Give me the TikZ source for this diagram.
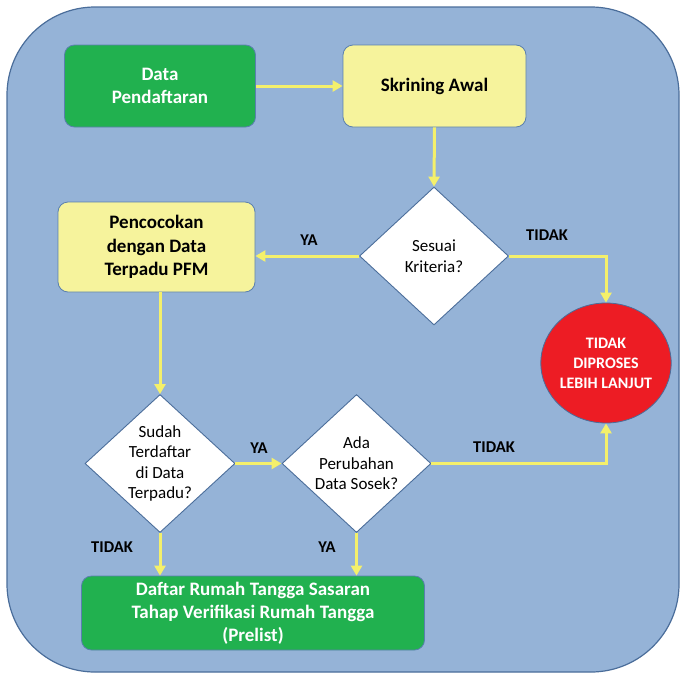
\documentclass[tikz,border=0pt]{standalone}
\usepackage{fontspec}
\setmainfont{Carlito}
\usetikzlibrary{shapes.geometric,arrows.meta}
\definecolor{bgfill}{HTML}{95B3D7}
\definecolor{bgline}{HTML}{4A6D9A}
\definecolor{gfill}{HTML}{21B14F}
\definecolor{yfill}{HTML}{F6F39C}
\definecolor{boxline}{HTML}{5A7FAF}
\definecolor{arrcol}{HTML}{F4F06B}
\definecolor{redfill}{HTML}{ED1C24}
\tikzset{
  gbox/.style={draw=boxline,line width=0.8pt,fill=gfill,rounded corners=10pt,align=center,
    text=white,font=\fontsize{19}{23.5}\selectfont\bfseries,inner sep=0pt},
  ybox/.style={draw=boxline,line width=0.8pt,fill=yfill,rounded corners=10pt,align=center,
    text=black,font=\fontsize{19}{23.2}\selectfont\bfseries,inner sep=0pt},
  dia/.style={diamond,draw=bgline,line width=0.9pt,fill=white,align=center,inner sep=0pt,
    aspect=1.08,font=\fontsize{17}{20.5}\selectfont},
  circ/.style={ellipse,draw=bgline,line width=0.8pt,fill=redfill,align=center,text=white,
    inner sep=0pt,font=\fontsize{16}{20}\selectfont\bfseries},
  arr/.style={draw=arrcol,line width=3pt,-{Triangle[width=11pt,length=10pt]}},
  lbl/.style={font=\fontsize{16.5}{19}\selectfont\bfseries,text=black,inner sep=0pt}
}
\begin{document}
\begin{tikzpicture}[x=1pt,y=-1pt]
\useasboundingbox (0,0) rectangle (680,675);
\path[fill=bgfill,draw=bgline,line width=1.2pt,rounded corners=88pt] (7,7) rectangle (679,672);

\node[gbox,minimum width=191pt,minimum height=82pt] (data) at (160,86) {Data\\Pendaftaran};
\node[ybox,minimum width=183pt,minimum height=82pt] (skr) at (434.5,86) {Skrining Awal};
\node[ybox,minimum width=197pt,minimum height=90pt] (pen) at (156.5,247) {Pencocokan\\dengan Data\\Terpadu PFM};
\node[dia,minimum width=149pt,minimum height=138pt] (ses) at (434,256) {Sesuai\\Kriteria?};
\node[circ,minimum width=114pt,minimum height=120pt] (tdk) at (606,363) {TIDAK\\DIPROSES\\LEBIH LANJUT};
\node[dia,minimum width=150pt,minimum height=138pt] (sud) at (160,463.5) {Sudah\\Terdaftar\\di Data\\Terpadu?};
\node[dia,minimum width=149pt,minimum height=138pt] (ada) at (356.5,463.5) {Ada\\Perubahan\\Data Sosek?};
\node[gbox,minimum width=343pt,minimum height=74pt,font=\fontsize{19}{23}\selectfont\bfseries] (daf) at (253,613) {Daftar Rumah Tangga Sasaran\\Tahap Verifikasi Rumah Tangga\\(Prelist)};

\node[lbl] (ya1) at (309,240) {YA};
\node[lbl] (tidak1) at (547,235) {TIDAK};
\node[lbl] (ya2) at (259,448) {YA};
\node[lbl] (tidak2) at (494,447) {TIDAK};
\node[lbl] (tidak3) at (112,547) {TIDAK};
\node[lbl] (ya3) at (327,547) {YA};

\draw[arr] (data.east) -- (skr.west);
\draw[arr] (skr.south) -- (ses.north);
\draw[arr] (ses.west) -- (ses.west -| pen.east);
\draw[arr] (ses.east) -| (tdk.north);
\draw[arr] (sud.north |- pen.south) -- (sud.north);
\draw[arr] (sud.east) -- (ada.west);
\draw[arr] (ada.east) -| (tdk.south);
\draw[arr] (sud.south) -- (sud.south |- daf.north);
\draw[arr] (ada.south) -- (ada.south |- daf.north);
\end{tikzpicture}
\end{document}
